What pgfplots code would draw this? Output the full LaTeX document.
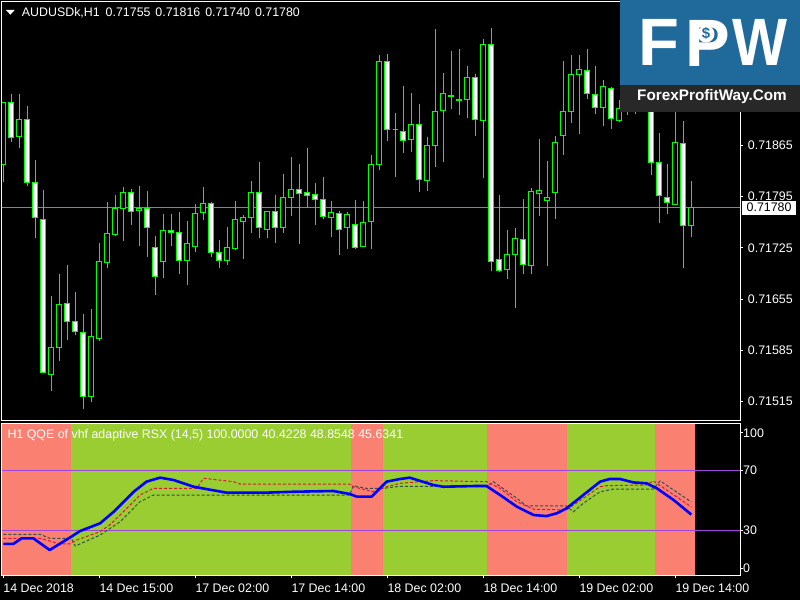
\documentclass[border=0pt]{standalone}
\usepackage{graphicx}
\usepackage{fontspec}
\setmainfont{Liberation Sans}
\usepackage{pgfplots}
\usepackage{pgfplotstable}
\pgfplotsset{compat=1.18}
\usepgfplotslibrary{statistics}
\definecolor{cgreen}{RGB}{0,255,0}
\definecolor{salm}{RGB}{250,128,114}
\definecolor{ygreen}{RGB}{154,205,50}
\definecolor{lvl}{RGB}{160,70,220}
\definecolor{pline}{RGB}{119,136,153}
\definecolor{redd}{RGB}{220,20,60}
\definecolor{grayd}{RGB}{47,79,79}
\definecolor{logoblue}{RGB}{31,106,155}
\definecolor{logodark}{RGB}{40,40,40}
\newcommand\lbl{\fontsize{12.4pt}{14pt}\selectfont}

\pgfplotstableread{
k o h l c
0 0.71839 0.71924 0.71815 0.71924
1 0.71924 0.71935 0.71870 0.71876
2 0.71877 0.71935 0.71861 0.71900
3 0.71901 0.71919 0.71810 0.71814
4 0.71815 0.71845 0.71738 0.71766
5 0.71764 0.71804 0.71554 0.71555
6 0.71552 0.71659 0.71529 0.71589
7 0.71589 0.71690 0.71570 0.71648
8 0.71649 0.71702 0.71599 0.71625
9 0.71625 0.71665 0.71606 0.71611
10 0.71610 0.71635 0.71505 0.71522
11 0.71522 0.71642 0.71514 0.71604
12 0.71602 0.71732 0.71598 0.71707
13 0.71705 0.71788 0.71697 0.71745
14 0.71743 0.71797 0.71741 0.71779
15 0.71779 0.71808 0.71734 0.71801
16 0.71801 0.71806 0.71756 0.71775
17 0.71776 0.71810 0.71728 0.71779
18 0.71779 0.71803 0.71712 0.71753
19 0.71726 0.71741 0.71661 0.71686
20 0.71706 0.71771 0.71684 0.71749
21 0.71749 0.71771 0.71728 0.71746
22 0.71746 0.71774 0.71689 0.71708
23 0.71708 0.71762 0.71674 0.71731
24 0.71727 0.71785 0.71719 0.71772
25 0.71773 0.71808 0.71763 0.71786
26 0.71786 0.71788 0.71712 0.71719
27 0.71719 0.71736 0.71697 0.71708
28 0.71708 0.71754 0.71702 0.71726
29 0.71724 0.71789 0.71723 0.71764
30 0.71761 0.71770 0.71710 0.71767
31 0.71767 0.71816 0.71746 0.71801
32 0.71801 0.71842 0.71738 0.71753
33 0.71750 0.71776 0.71738 0.71775
34 0.71775 0.71797 0.71732 0.71753
35 0.71753 0.71826 0.71746 0.71794
36 0.71794 0.71849 0.71768 0.71805
37 0.71805 0.71840 0.71731 0.71800
38 0.71801 0.71862 0.71781 0.71797
39 0.71798 0.71814 0.71757 0.71791
40 0.71791 0.71822 0.71764 0.71768
41 0.71767 0.71789 0.71740 0.71774
42 0.71772 0.71776 0.71716 0.71750
43 0.71753 0.71774 0.71723 0.71771
44 0.71757 0.71791 0.71723 0.71725
45 0.71727 0.71789 0.71727 0.71760
46 0.71761 0.71852 0.71724 0.71839
47 0.71839 0.71989 0.71832 0.71979
48 0.71980 0.71990 0.71871 0.71887
49 0.71887 0.71909 0.71822 0.71887
50 0.71884 0.71946 0.71855 0.71872
51 0.71873 0.71937 0.71856 0.71894
52 0.71893 0.71922 0.71802 0.71819
53 0.71817 0.71877 0.71803 0.71865
54 0.71865 0.72024 0.71835 0.71912
55 0.71913 0.71964 0.71843 0.71936
56 0.71932 0.71994 0.71915 0.71933
57 0.71927 0.71997 0.71907 0.71928
58 0.71928 0.71974 0.71903 0.71958
59 0.71958 0.71963 0.71878 0.71901
60 0.71899 0.72010 0.71820 0.72003
61 0.72003 0.72025 0.71694 0.71707
62 0.71709 0.71797 0.71693 0.71694
63 0.71695 0.71749 0.71683 0.71716
64 0.71716 0.71752 0.71643 0.71738
65 0.71737 0.71792 0.71690 0.71702
66 0.71701 0.71807 0.71690 0.71802
67 0.71800 0.71874 0.71768 0.71804
68 0.71790 0.71844 0.71701 0.71794
69 0.71801 0.71878 0.71764 0.71869
70 0.71878 0.71980 0.71852 0.71912
71 0.71912 0.71989 0.71895 0.71962
72 0.71962 0.71989 0.71880 0.71969
73 0.71968 0.71997 0.71929 0.71936
74 0.71935 0.71974 0.71908 0.71917
75 0.71917 0.71954 0.71891 0.71946
76 0.71943 0.71945 0.71887 0.71902
77 0.71899 0.71927 0.71898 0.71915
78 0.71915 0.71960 0.71907 0.71945
79 0.71945 0.71965 0.71908 0.71935
80 0.71935 0.71970 0.71920 0.71950
81 0.71950 0.71960 0.71824 0.71842
82 0.71842 0.71882 0.71759 0.71796
83 0.71794 0.71840 0.71772 0.71787
84 0.71785 0.71915 0.71784 0.71869
85 0.71867 0.71898 0.71697 0.71756
86 0.71755 0.71816 0.71740 0.71780
}\candles

\pgfplotstableread{
k v
0 20.6
1.25 20.6
2.3 24.4
3.75 24.4
5.8 16.5
8.5 25.5
9.6 29.3
12.1 34.5
13.8 42.3
16.3 55.8
17.9 62.6
19.6 65.3
21.3 63.7
23.8 59.2
25.4 57.6
27.9 55.2
32.9 55.2
36.25 55.8
41.25 56.3
43.3 54.3
44.2 52.5
46.05 52.5
47.9 62.6
49.6 64.4
50.8 65.3
53.8 60.3
55 59.2
59.2 59.7
60.4 59.7
62.1 53.6
64.2 45.7
66.3 40.1
67.9 39.4
69.2 41.3
70.4 44.6
72.5 53.6
74.6 62.6
75.8 64.4
77.1 64.4
78.75 62.1
80.4 61.5
81.7 58.1
83.8 50.2
86 40.4
}\rsx

\pgfplotstableread{
k v
0 24.4
4.6 24.4
7.1 20.6
8.3 20.6
9.2 23.3
12.1 28.9
13.3 33.4
14.6 40.1
17.1 53.6
18.75 58.1
24.2 58.1
25 64.9
28.75 62.6
29.6 61.0
43.3 61.0
43.75 59.2
46.25 55.8
47.9 59.2
49.6 61.5
53.75 63.3
60.4 62.6
62.1 58.1
64.2 49.1
66.3 44.0
70.4 43.5
72.5 51.4
74.6 59.2
75.4 59.9
80.4 60.4
81.25 63.1
82.9 57.0
86 45.6
}\qred

\pgfplotstableread{
k v
0 27.1
4.6 27.1
5.8 24.4
8.5 24.4
9.0 19.2
12.1 26.6
14.6 35.6
17.1 49.1
18.75 53.6
43.3 53.6
43.75 59.9
45.4 58.1
47.5 58.1
49.6 59.5
60.4 59.2
61.25 62.6
64.2 51.4
65.4 46.2
70.4 46.2
71.25 42.3
72.5 48.0
74.6 55.8
76.25 57.6
81.25 57.6
82.1 63.1
86 48.9
}\qgray

\begin{document}
\begin{tikzpicture}
\fill[black] (0pt,0pt) rectangle (800pt,600pt);
\useasboundingbox (0pt,0pt) rectangle (800pt,600pt);

% ---------------- main price panel
\begin{axis}[
  at={(2pt,179.3pt)}, anchor=south west, scale only axis,
  width=738pt, height=418.7pt,
  xmin=-0.1625, xmax=92.0875, ymin=0.7148905, ymax=0.7206094,
  axis line style={white, line width=1pt},
  xtick=\empty,
  ytick={0.71515,0.71585,0.71655,0.71725,0.71795,0.71865},
  yticklabels={0.71515,0.71585,0.71655,0.71725,0.71795,0.71865},
  ytick pos=right, yticklabel pos=right,
  tick align=outside, major tick length=3pt,
  tick style={white, line width=1pt},
  yticklabel style={font=\lbl, text=white, anchor=west, inner sep=0pt, xshift=4.7pt},
  boxplot/draw direction=y,
  boxplot/box extend=0.6,
  boxplot/whisker extend=0,
]
\addplot[pline, line width=1pt, forget plot] coordinates {(-1,0.7178) (93,0.7178)};
\pgfplotsinvokeforeach{0,...,86}{%
  \pgfplotstablegetelem{#1}{o}\of\candles\let\vo=\pgfplotsretval
  \pgfplotstablegetelem{#1}{h}\of\candles\let\vh=\pgfplotsretval
  \pgfplotstablegetelem{#1}{l}\of\candles\let\vl=\pgfplotsretval
  \pgfplotstablegetelem{#1}{c}\of\candles\let\vc=\pgfplotsretval
  \ifdim\vc pt>\vo pt
    \edef\tmp{\noexpand\addplot[draw=cgreen, fill=black, line width=1pt, boxplot prepared={draw position=#1, lower whisker=\vl, lower quartile=\vo, median=\vo, upper quartile=\vc, upper whisker=\vh}] coordinates {};}%
  \else
    \edef\tmp{\noexpand\addplot[draw=cgreen, fill=white, line width=1pt, boxplot prepared={draw position=#1, lower whisker=\vl, lower quartile=\vc, median=\vc, upper quartile=\vo, upper whisker=\vh}] coordinates {};}%
  \fi
  \tmp
}
\end{axis}

% ---------------- indicator panel
\begin{axis}[
  at={(2pt,25pt)}, anchor=south west, scale only axis,
  width=738pt, height=151.7pt,
  xmin=-0.1625, xmax=92.0875, ymin=-0.35, ymax=101.97,
  axis line style={white, line width=1pt},
  axis on top,
  xtick={0,12,24,36,48,60,72,84},
  xticklabels={14 Dec 2018,14 Dec 15:00,17 Dec 02:00,17 Dec 14:00,18 Dec 02:00,18 Dec 14:00,19 Dec 02:00,19 Dec 14:00},
  xtick pos=bottom,
  ytick={4.2,30,70,95.6}, yticklabels={0,30,70,100},
  ytick pos=right, yticklabel pos=right,
  tick align=outside, major tick length=3pt,
  tick style={white, line width=1pt},
  yticklabel style={font=\lbl, text=white, anchor=west, inner sep=0pt, xshift=0pt},
  xticklabel style={font=\lbl, text=white, anchor=north west, inner sep=0pt, yshift=-5.3pt},
]
\addplot[fill=salm, draw=none] coordinates {(-0.5,-5) (-0.5,110) (8.5,110) (8.5,-5)} -- cycle;
\addplot[fill=ygreen, draw=none] coordinates {(8.5,-5) (8.5,110) (43.5,110) (43.5,-5)} -- cycle;
\addplot[fill=salm, draw=none] coordinates {(43.5,-5) (43.5,110) (47.5,110) (47.5,-5)} -- cycle;
\addplot[fill=ygreen, draw=none] coordinates {(47.5,-5) (47.5,110) (60.5,110) (60.5,-5)} -- cycle;
\addplot[fill=salm, draw=none] coordinates {(60.5,-5) (60.5,110) (70.5,110) (70.5,-5)} -- cycle;
\addplot[fill=ygreen, draw=none] coordinates {(70.5,-5) (70.5,110) (81.5,110) (81.5,-5)} -- cycle;
\addplot[fill=salm, draw=none] coordinates {(81.5,-5) (81.5,110) (86.5,110) (86.5,-5)} -- cycle;
\addplot[lvl, line width=1pt] coordinates {(-1,70) (93,70)};
\addplot[lvl, line width=1pt] coordinates {(-1,30) (93,30)};
\addplot[grayd, line width=1pt, dash pattern=on 3pt off 2pt] table[x=k,y=v] {\qgray};
\addplot[redd, line width=1pt, dash pattern=on 3pt off 2pt] table[x=k,y=v] {\qred};
\addplot[blue, line width=2.6pt, line join=round] table[x=k,y=v] {\rsx};
\end{axis}

% titles
\fill[white] (6pt,590pt) -- (14.7pt,590pt) -- (10.35pt,585.3pt) -- cycle;
\node[anchor=west, inner sep=0pt, text=white, font=\lbl] at (21.7pt,587.3pt)
  {AUDUSDk,H1\hspace{6pt}0.71755\hspace{1.5pt} 0.71816\hspace{1.5pt} 0.71740\hspace{1.5pt} 0.71780};
\node[anchor=west, inner sep=0pt, text=white, font=\lbl] at (7.3pt,165pt)
  {H1 QQE of vhf adaptive RSX (14,5) 100.0000 40.4228 48.8548 45.6341};
% current price tag
\node[anchor=west, fill=white, text=black, font=\lbl, inner xsep=4.5pt, inner ysep=1.5pt, minimum height=14pt] at (742pt,392.3pt) {0.71780};

% logo
\fill[logoblue] (620pt,515pt) rectangle (800pt,600pt);
\fill[logodark] (620pt,488.3pt) rectangle (800pt,515pt);
\fill[white] (706pt,566pt) circle (8.5pt);
\node[text=white, font=\fontsize{67pt}{67pt}\selectfont\bfseries, inner sep=0pt] at (659pt,557.5pt) {F};
\node[text=white, font=\fontsize{67pt}{67pt}\selectfont\bfseries, inner sep=0pt, anchor=base] at (708pt,533.5pt)
  {P\llap{\raisebox{27.5pt}{\fontsize{15pt}{15pt}\selectfont\color{logoblue}\$}\hspace{20.2pt}}};
\node[text=white, font=\fontsize{67pt}{67pt}\selectfont\bfseries, inner sep=0pt] at (760pt,557.5pt) {\scalebox{0.87}[1]{W}};
\node[text=white, font=\fontsize{15.3pt}{16pt}\selectfont\bfseries, inner sep=0pt] at (712pt,503.3pt) {ForexProfitWay.Com};
\end{tikzpicture}
\end{document}
